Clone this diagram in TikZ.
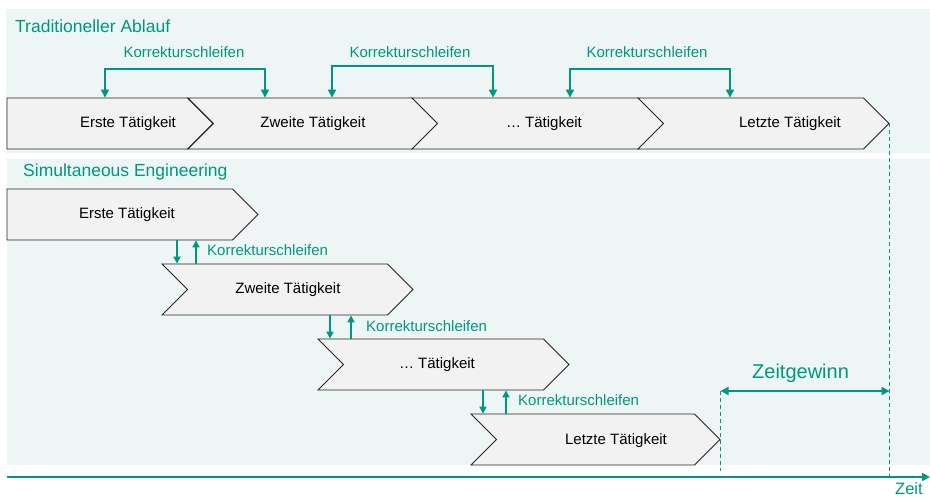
\documentclass[tikz,border=0pt]{standalone}
\usepackage{fontspec}
\setmainfont{Liberation Sans}
\usepackage{tikz}
\usetikzlibrary{arrows.meta,shapes.symbols}
\definecolor{kit}{RGB}{0,150,130}
\definecolor{panelbg}{RGB}{237,246,244}
\definecolor{chevgray}{RGB}{242,242,242}

\begin{document}
\begin{tikzpicture}[x=1pt,y=-1pt,
  chevron/.style={signal,signal to=east,signal pointer angle=90,draw=black!85,
    fill=chevgray,line width=0.8pt,inner sep=0pt,minimum height=51pt},
  notched/.style={signal from=west},
  txt/.style={anchor=base,inner sep=0pt,font=\fontsize{15}{18}\selectfont},
  greentxt/.style={txt,text=kit},
  title/.style={anchor=base west,inner sep=0pt,text=kit,font=\fontsize{17.5}{21}\selectfont},
  korr/.style={draw=kit,line width=2pt,{Triangle[length=8pt,width=8pt]}-{Triangle[length=8pt,width=8pt]}},
  korrsmall/.style={draw=kit,line width=1.6pt,-{Triangle[length=7pt,width=7pt]}},
  zeitline/.style={draw=kit,dash pattern=on 4pt off 3pt,line width=0.9pt}]

  \useasboundingbox (0,0) rectangle (930,497);
  \fill[panelbg] (6,9) rectangle (930,153);
  \fill[panelbg] (7,159) rectangle (930,465);

  \node[title] (T1) at (15,33) {Traditioneller Ablauf};
  \node[title] (T2) at (23,177) {Simultaneous Engineering};

  % Traditioneller Ablauf
  \node[chevron,minimum width=206pt] (A1) at (97.25,123.5) {};
  \node[chevron,notched,minimum width=250pt] (A2) at (313,123.5) {};
  \node[chevron,notched,minimum width=252pt] (A3) at (538,123.5) {};
  \node[chevron,notched,minimum width=251pt] (A4) at (763.5,123.5) {};
  \node[txt] (LA1) at (128,127.5) {Erste Tätigkeit};
  \node[txt] (LA2) at (313,127.5) {Zweite Tätigkeit};
  \node[txt] (LA3) at (544,127.5) {… Tätigkeit};
  \node[txt] (LA4) at (790,127.5) {Letzte Tätigkeit};

  \draw[korr] (A1.north -| 105,0) -- (105,69) -- (265,69) -- (A2.north -| 265,0);
  \draw[korr] (A2.north -| 332,0) -- (332,66) -- (493,66) -- (A3.north -| 493,0);
  \draw[korr] (A3.north -| 570,0) -- (570,69) -- (730,69) -- (A4.north -| 730,0);
  \node[greentxt] (KA1) at (184,58) {Korrekturschleifen};
  \node[greentxt] (KA2) at (410,58) {Korrekturschleifen};
  \node[greentxt] (KA3) at (647,58) {Korrekturschleifen};

  % Simultaneous Engineering
  \node[chevron,minimum width=251pt] (B1) at (119.75,214.5) {};
  \node[chevron,notched,minimum width=251pt] (B2) at (287.5,289.5) {};
  \node[chevron,notched,minimum width=251pt] (B3) at (443.5,364.5) {};
  \node[chevron,notched,minimum width=249pt] (B4) at (595.5,439.5) {};
  \node[txt] (LB1) at (127,219) {Erste Tätigkeit};
  \node[txt] (LB2) at (288,294) {Zweite Tätigkeit};
  \node[txt] (LB3) at (437,369) {… Tätigkeit};
  \node[txt] (LB4) at (616,444) {Letzte Tätigkeit};

  \draw[korrsmall] (B1.south -| 177,0) -- (B2.north -| 177,0);
  \draw[korrsmall] (B2.north -| 196,0) -- (B1.south -| 196,0);
  \draw[korrsmall] (B2.south -| 330,0) -- (B3.north -| 330,0);
  \draw[korrsmall] (B3.north -| 351,0) -- (B2.south -| 351,0);
  \draw[korrsmall] (B3.south -| 483,0) -- (B4.north -| 483,0);
  \draw[korrsmall] (B4.north -| 506,0) -- (B3.south -| 506,0);
  \node[greentxt,anchor=base west] (KB1) at (207,256) {Korrekturschleifen};
  \node[greentxt,anchor=base west] (KB2) at (366,331) {Korrekturschleifen};
  \node[greentxt,anchor=base west] (KB3) at (518,406) {Korrekturschleifen};

  % Zeit
  \coordinate (t0) at (7,477);
  \coordinate (t1) at (930,477);
  \coordinate (Z1) at (B4.east |- 0,391);
  \coordinate (Z2) at (A4.east |- 0,391);
  \draw[zeitline] (A4.east) -- (A4.east |- t1);
  \draw[zeitline] (Z1) -- (Z1 |- 0,471);
  \draw[draw=kit,line width=2.4pt,{Triangle[length=8pt,width=8pt]}-{Triangle[length=8pt,width=8pt]}] (Z1) -- (Z2);
  \node[anchor=base west,inner sep=0pt,text=kit,font=\fontsize{20}{24}\selectfont] (ZG) at (752,378) {Zeitgewinn};
  \draw[draw=kit,line width=2pt,-{Triangle[length=8pt,width=8pt]}] (t0) -- (t1);
  \node[anchor=base west,inner sep=0pt,text=kit,font=\fontsize{16.5}{20}\selectfont] (zeit) at (895,494) {Zeit};
\end{tikzpicture}
\end{document}
